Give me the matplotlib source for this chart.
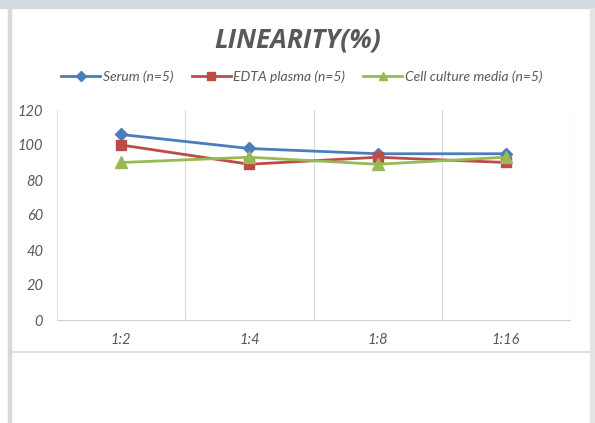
import matplotlib
matplotlib.use("Agg")
import matplotlib.pyplot as plt
from matplotlib.lines import Line2D
from matplotlib.patches import Rectangle

categories = ["1:2", "1:4", "1:8", "1:16"]
serum = [106, 98, 95, 95]
edta = [100, 89, 93, 90]
cell = [90, 93, 89, 93]
series_names = ["Serum (n=5)", "EDTA plasma (n=5)", "Cell culture media (n=5)"]
yticks = [0, 20, 40, 60, 80, 100, 120]

plt.rcParams['font.family'] = ['Lato', 'DejaVu Sans']
txt = '#595959'

fig = plt.figure(figsize=(5.95, 4.23), dpi=100)
W, H = 595, 423
def fx(px): return px / W
def fy(py): return 1 - py / H

# frame decorations
fig.patches.append(Rectangle((0, fy(8)), 1, 8 / H, transform=fig.transFigure,
                             color='#d5dae0', zorder=0))
fig.patches.append(Rectangle((fx(8), 0), 3 / W, fy(8), transform=fig.transFigure,
                             color='#d9d9d9', zorder=0))
fig.patches.append(Rectangle((fx(590), 0), 5 / W, fy(8), transform=fig.transFigure,
                             color='#e3e3e3', zorder=0))
fig.lines.append(Line2D([fx(11), fx(590)], [fy(352), fy(352)], transform=fig.transFigure,
                        color='#d9d9d9', lw=1.2))

ax = fig.add_axes([fx(57), fy(320), fx(570) - fx(57), (320 - 110) / H])
x = list(range(len(categories)))
ax.plot(x, serum, color='#4a7ebb', lw=2, marker='D', ms=6.5, label=series_names[0], zorder=3)
ax.plot(x, edta, color='#be4b48', lw=2, marker='s', ms=7.5, label=series_names[1], zorder=3)
ax.plot(x, cell, color='#98b954', lw=2, marker='^', ms=8, label=series_names[2], zorder=3)

ax.set_xlim(-0.5, len(categories) - 0.5)
ax.set_ylim(0, 120)
ax.set_yticks(yticks)
ax.set_xticks(x)
ax.set_xticklabels(categories)
for b in [0.5, 1.5, 2.5, 3.5]:
    ax.axvline(b, color='#d9d9d9', lw=0.8, zorder=1)
for s in ['top', 'right']:
    ax.spines[s].set_visible(False)
ax.spines['left'].set_color('#e0e0e0')
ax.spines['bottom'].set_color('#d0d0d0')
ax.tick_params(axis='both', length=0, colors=txt)
ax.tick_params(axis='y', pad=10, labelsize=10.5)
ax.tick_params(axis='x', pad=9, labelsize=10.5)
for lab in ax.get_xticklabels() + ax.get_yticklabels():
    lab.set_fontstyle('italic')

fig.text(0.5, fy(40), "LINEARITY(%)", ha='center', va='center', fontsize=19,
         fontweight='bold', fontstyle='italic', color=txt, family=['Open Sans', 'DejaVu Sans'])

leg = fig.legend(loc='center', bbox_to_anchor=(fx(302), fy(77)), ncol=3, frameon=False,
                 prop={'style': 'italic', 'size': 10}, handlelength=2.8, markerscale=0.75,
                 columnspacing=1.3, handletextpad=0.2, labelcolor=txt)

fig.savefig("out.png", dpi=100)
